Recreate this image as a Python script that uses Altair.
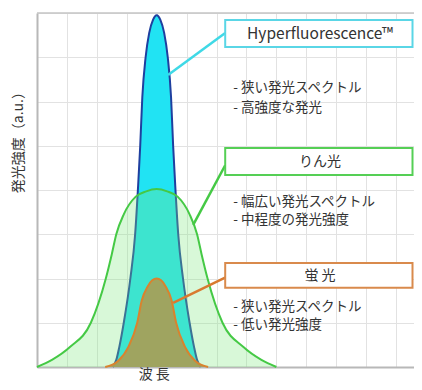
import altair as alt
import pandas as pd

FONT = "Noto Sans CJK JP"

# ---- data (x: wavelength units, y: intensity a.u.) ----
hf_x = [2.53, 2.65, 2.75, 2.90, 3.12, 3.28, 3.38, 3.45, 3.52, 3.63, 3.75, 3.88, 4.0,
        4.12, 4.25, 4.37, 4.48, 4.55, 4.62, 4.72, 4.88, 5.10, 5.25, 5.35, 5.47]
hf_y = [0.0, 0.16, 0.45, 1.0, 2.0, 3.0, 4.1, 5.0, 6.1, 7.0, 7.55, 7.85, 7.95,
        7.85, 7.55, 7.0, 6.1, 5.0, 4.1, 3.0, 2.0, 1.0, 0.45, 0.16, 0.0]

ph_x = [0.0, 0.5, 1.1, 1.8, 2.3, 2.5, 2.65, 2.9, 3.3, 3.65, 4.0,
        4.35, 4.7, 5.1, 5.35, 5.5, 5.7, 6.2, 6.9, 7.5, 8.0]
ph_y = [0.0, 0.16, 0.45, 1.0, 2.0, 2.55, 3.0, 3.45, 3.85, 3.97, 4.02,
        3.97, 3.85, 3.45, 3.0, 2.55, 2.0, 1.0, 0.45, 0.16, 0.0]

fl_x = [2.28, 2.7, 3.05, 3.35, 3.5, 3.7, 3.85, 4.0, 4.15, 4.3, 4.5, 4.65, 4.95, 5.3, 5.72]
fl_y = [0.0, 0.13, 0.45, 1.0, 1.5, 1.82, 1.96, 2.0, 1.96, 1.82, 1.5, 1.0, 0.45, 0.13, 0.0]

x_grid = list(range(0, 13))
y_grid = list(range(0, 9))

box_labels = ["Hyperfluorescence™", "りん光", "蛍  光"]
bullets = ["- 狭い発光スペクトル", "- 高強度な発光",
           "- 幅広い発光スペクトル", "- 中程度の発光強度",
           "- 狭い発光スペクトル", "- 低い発光強度"]
y_title = "発光強度（a.u.）"
x_title = "波 長"

# ---- layout / styling (positions in data units) ----
X_MAX = 12.6
box_x1, box_x2 = 6.29, 12.55
box_y = [(7.84, 7.23), (4.95, 4.34), (2.35, 1.79)]
box_colors = ["#5ad6e6", "#55cf55", "#d98a4c"]
label_x = 9.46
label_y = [7.53, 4.63, 2.06]
conn = [(4.38, 6.6, 6.29, 7.55), (5.22, 3.21, 6.29, 4.56), (4.55, 1.45, 6.32, 2.03)]
conn_colors = ["#3fd9e6", "#45c945", "#d97a30"]
bullet_x = 6.56
bullet_y = [6.3, 5.85, 3.73, 3.32, 1.36, 0.95]

XS = alt.Scale(domain=[0, X_MAX], nice=False, zero=False)
YS = alt.Scale(domain=[0, 8], nice=False, zero=False)
XA = alt.Axis(values=x_grid, labels=False, ticks=False, title=None, grid=True,
              gridColor="#e2e2e2", gridWidth=1, domainColor="#b8b8b8", domainWidth=2)
YA = alt.Axis(values=y_grid, labels=False, ticks=False, title=None, grid=True,
              gridColor="#e2e2e2", gridWidth=1, domainColor="#b8b8b8", domainWidth=2)


def X(f):
    return alt.X(f, type="quantitative", scale=XS, axis=XA)


def Y(f):
    return alt.Y(f, type="quantitative", scale=YS, axis=YA)


hf = pd.DataFrame({"x": hf_x, "y": hf_y})
ph = pd.DataFrame({"x": ph_x, "y": ph_y})
fl = pd.DataFrame({"x": fl_x, "y": fl_y})

layers = []
top_df = pd.DataFrame({"x": [0.0], "x2": [X_MAX], "y": [8.0]})
layers.append(alt.Chart(top_df).mark_rule(color="#c4c4c4", strokeWidth=1.5).encode(
    x=X("x"), x2="x2", y=Y("y")))
layers.append(alt.Chart(hf).mark_area(color="#21e3f3", interpolate="monotone", opacity=1)
              .encode(x=X("x"), y=Y("y")))
layers.append(alt.Chart(hf).mark_line(color="#1f3f9f", strokeWidth=2, interpolate="monotone")
              .encode(x=X("x"), y=Y("y")))
layers.append(alt.Chart(ph).mark_area(color="#7fe87f", interpolate="monotone", opacity=0.3)
              .encode(x=X("x"), y=Y("y")))
layers.append(alt.Chart(ph).mark_line(color="#45c945", strokeWidth=2, interpolate="monotone")
              .encode(x=X("x"), y=Y("y")))
layers.append(alt.Chart(fl).mark_area(color="#a4a05a", interpolate="monotone", opacity=0.95)
              .encode(x=X("x"), y=Y("y")))
layers.append(alt.Chart(fl).mark_line(color="#d9832e", strokeWidth=2, interpolate="monotone")
              .encode(x=X("x"), y=Y("y")))

conn_df = pd.DataFrame({"x": [c[0] for c in conn], "y": [c[1] for c in conn],
                        "x2": [c[2] for c in conn], "y2": [c[3] for c in conn],
                        "c": conn_colors})
layers.append(alt.Chart(conn_df).mark_rule(strokeWidth=2.5).encode(
    x=X("x"), y=Y("y"), x2="x2", y2="y2", color=alt.Color("c:N", scale=None)))

box_df = pd.DataFrame({"x": [box_x1] * 3, "x2": [box_x2] * 3,
                       "y": [b[0] for b in box_y], "y2": [b[1] for b in box_y],
                       "c": box_colors})
layers.append(alt.Chart(box_df).mark_rect(fill="white", strokeWidth=2).encode(
    x=X("x"), y=Y("y"), x2="x2", y2="y2", stroke=alt.Color("c:N", scale=None)))

lab_df = pd.DataFrame({"x": [label_x] * 3, "y": label_y, "t": box_labels,
                       "s": [15.5, 14, 14]})
layers.append(alt.Chart(lab_df).mark_text(font=FONT, color="#333333",
                                          align="center", baseline="middle").encode(
    x=X("x"), y=Y("y"), text="t:N", size=alt.Size("s:Q", scale=None, legend=None)))

bul_df = pd.DataFrame({"x": [bullet_x] * 6, "y": bullet_y, "t": bullets})
layers.append(alt.Chart(bul_df).mark_text(font=FONT, fontSize=13.5, color="#333333",
                                          align="left", baseline="middle").encode(
    x=X("x"), y=Y("y"), text="t:N"))

ttl_df = pd.DataFrame({"x": [-0.6], "y": [5.15], "t": [y_title]})
layers.append(alt.Chart(ttl_df).mark_text(font=FONT, fontSize=14, color="#333333",
                                          align="center", baseline="middle", angle=270).encode(
    x=X("x"), y=Y("y"), text="t:N"))

xt_df = pd.DataFrame({"x": [3.92], "y": [-0.18], "t": [x_title]})
layers.append(alt.Chart(xt_df).mark_text(font=FONT, fontSize=14, color="#333333",
                                         align="center", baseline="middle").encode(
    x=X("x"), y=Y("y"), text="t:N"))

chart = alt.layer(*layers).properties(
    width=377, height=354,
    padding={"left": 29, "top": 5, "right": 0, "bottom": 15},
    autosize=alt.AutoSizeParams(type="none"),
    background="white",
).configure_view(strokeWidth=0)

chart.save("out.html", embed_options={"renderer": "svg", "actions": False})
